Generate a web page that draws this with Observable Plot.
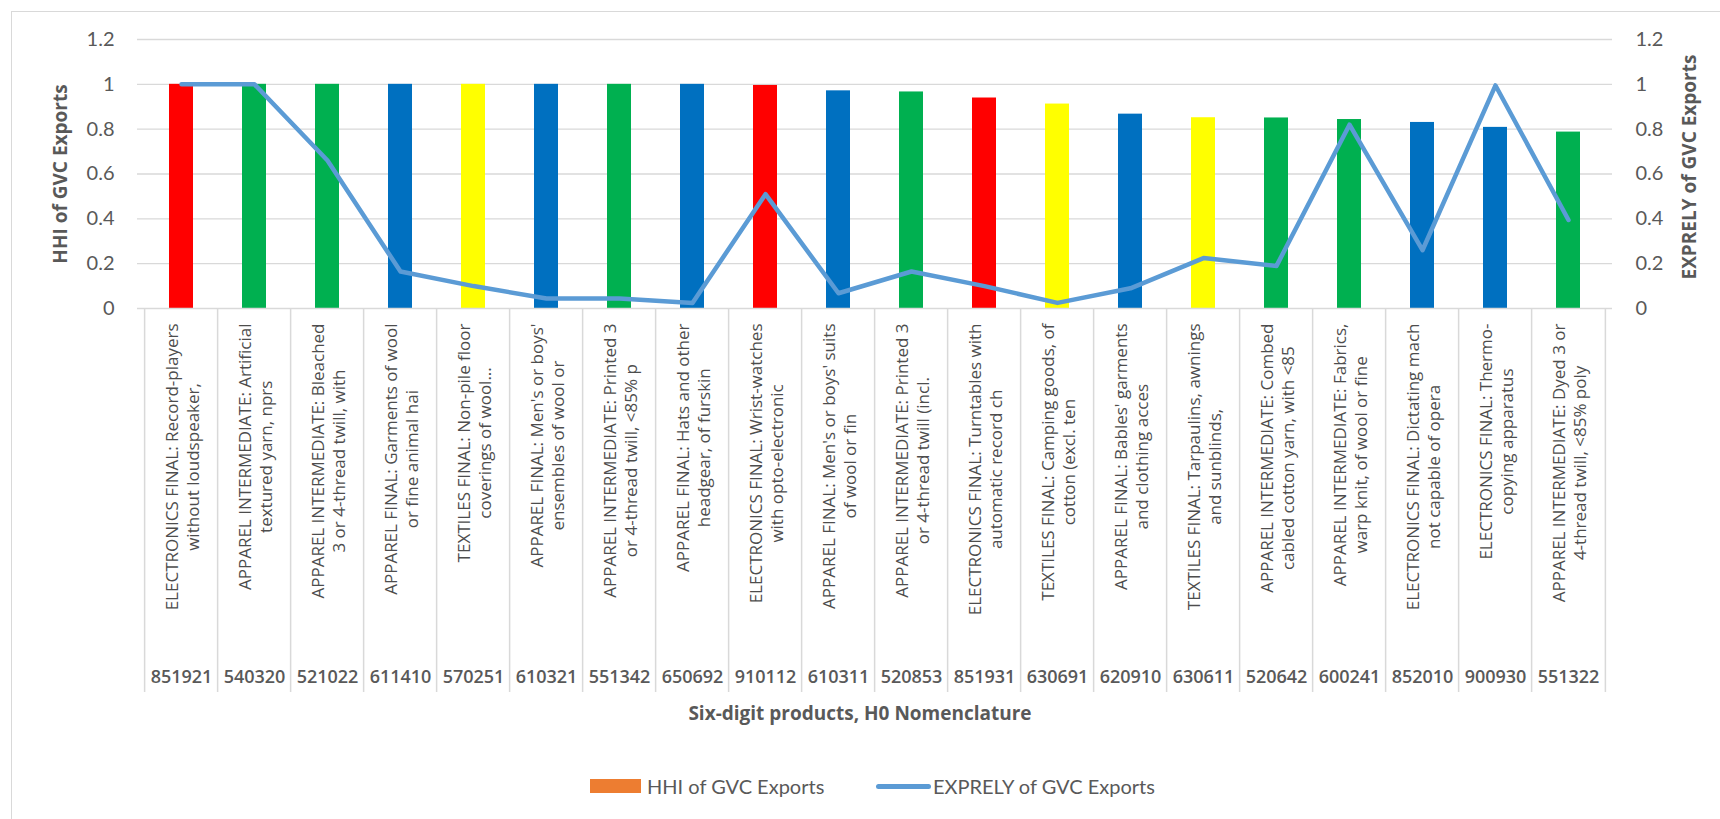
<!DOCTYPE html>
<html>
<head>
<meta charset="utf-8">
<script src="https://cdn.jsdelivr.net/npm/d3@7"></script>
<script src="https://cdn.jsdelivr.net/npm/@observablehq/plot@0.6"></script>
<style>
html,body{margin:0;padding:0;background:#fff;}
#wrap{position:relative;width:1720px;height:819px;overflow:hidden;background:#fff;}
#border{position:absolute;left:11px;top:11px;width:1800px;height:900px;border:1.5px solid #d9d9d9;box-sizing:border-box;}
#chart{position:absolute;left:0;top:0;}
#xtitle{position:absolute;left:0;width:1720px;top:699px;text-align:center;font-family:'Open Sans';font-weight:700;font-size:19px;color:#595959;line-height:28px;}
.lg{position:absolute;font-family:'Lato';font-size:20px;color:#595959;line-height:24px;top:774px;white-space:nowrap;}
</style>
</head>
<body>
<div id="wrap">
  <div id="border"></div>
  <div id="chart"></div>
  <div id="xtitle">Six-digit products, H0 Nomenclature</div>
  <div style="position:absolute;left:590px;top:779px;width:51px;height:14px;background:#ed7d31;"></div>
  <div class="lg" style="left:647px;">HHI of GVC Exports</div>
  <div style="position:absolute;left:876px;top:784px;width:55px;height:5px;border-radius:3px;background:#5b9bd5;"></div>
  <div class="lg" style="left:933px;">EXPRELY of GVC Exports</div>
</div>
<script>
// ---- data ----
const codes = ["851921","540320","521022","611410","570251","610321","551342","650692","910112","610311",
               "520853","851931","630691","620910","630611","520642","600241","852010","900930","551322"];
const labelLine1 = [
  "ELECTRONICS FINAL: Record-players",
  "APPAREL INTERMEDIATE: Artificial",
  "APPAREL INTERMEDIATE: Bleached",
  "APPAREL FINAL: Garments of wool",
  "TEXTILES FINAL: Non-pile floor",
  "APPAREL FINAL: Men's or boys'",
  "APPAREL INTERMEDIATE: Printed 3",
  "APPAREL FINAL: Hats and other",
  "ELECTRONICS FINAL: Wrist-watches",
  "APPAREL FINAL: Men's or boys' suits",
  "APPAREL INTERMEDIATE: Printed 3",
  "ELECTRONICS FINAL: Turntables with",
  "TEXTILES FINAL: Camping goods, of",
  "APPAREL FINAL: Bables' garments",
  "TEXTILES FINAL: Tarpaulins, awnings",
  "APPAREL INTERMEDIATE: Combed",
  "APPAREL INTERMEDIATE: Fabrics,",
  "ELECTRONICS FINAL: Dictating mach",
  "ELECTRONICS FINAL: Thermo-",
  "APPAREL INTERMEDIATE: Dyed 3 or"
];
const labelLine2 = [
  "without loudspeaker,",
  "textured yarn, nprs",
  "3 or 4-thread twill, with",
  "or fine animal hai",
  "coverings of wool...",
  "ensembles of wool or",
  "or 4-thread twill, <85% p",
  "headgear, of furskin",
  "with opto-electronic",
  "of wool or fin",
  "or 4-thread twill (incl.",
  "automatic record ch",
  "cotton (excl. ten",
  "and clothing acces",
  "and sunblinds,",
  "cabled cotton yarn, with <85",
  "warp knit, of wool or fine",
  "not capable of opera",
  "copying apparatus",
  "4-thread twill, <85% poly"
];
const hhi = [1.0, 1.0, 1.0, 1.0, 1.0, 1.0, 1.0, 1.0, 0.995, 0.971,
             0.966, 0.939, 0.912, 0.867, 0.851, 0.850, 0.843, 0.830, 0.808, 0.787];
const exprely = [1.0, 1.0, 0.66, 0.165, 0.10, 0.045, 0.045, 0.025, 0.51, 0.068,
                 0.165, 0.10, 0.025, 0.09, 0.225, 0.19, 0.82, 0.26, 0.995, 0.395];
const barColors = ["#ff0000","#00b050","#00b050","#0070c0","#ffff00","#0070c0","#00b050","#0070c0","#ff0000","#0070c0",
                   "#00b050","#ff0000","#ffff00","#0070c0","#ffff00","#00b050","#00b050","#0070c0","#0070c0","#00b050"];
const yTicks = [0, 0.2, 0.4, 0.6, 0.8, 1, 1.2];
const yTitleLeft = "HHI of GVC Exports";
const yTitleRight = "EXPRELY of GVC Exports";

// ---- build ----
const rows = codes.map((c, i) => ({
  code: c, label: labelLine1[i] + "\n" + labelLine2[i],
  hhi: hhi[i], exprely: exprely[i], color: barColors[i]
}));

const W = 1720, H = 700, mL = 137, mR = 108, mT = 39, mB = 392;
const n = codes.length;
const step = (W - mL - mR) / n;
const gray = "#595959";
const labelGray = "#4d4d4d";

const ctx = document.createElement("canvas").getContext("2d");
ctx.font = "17px 'Open Sans'";
const labelMarks = rows.map(r => {
  const w = Math.max(...r.label.split("\n").map(s => ctx.measureText(s).width));
  return Plot.text([r], {
    x: "code", text: "label", frameAnchor: "bottom", rotate: -90,
    textAnchor: "middle", lineAnchor: "middle", lineHeight: 1.25,
    dy: 15 + w / 2, fontSize: 17, fill: labelGray, fontFamily: "Open Sans"
  });
});

const chart = Plot.plot({
  width: W, height: H,
  marginLeft: mL, marginRight: mR, marginTop: mT, marginBottom: mB,
  style: {fontFamily: "Open Sans", background: "transparent", overflow: "visible"},
  x: {type: "band", domain: codes, paddingInner: 0.675, paddingOuter: 0.3375},
  y: {domain: [0, 1.2]},
  color: {type: "identity"},
  marks: [
    Plot.ruleY(yTicks.filter(d => d > 0), {stroke: "#d9d9d9", strokeWidth: 1.3}),
    Plot.barY(rows, {x: "code", y: "hhi", fill: "color"}),
    Plot.ruleY([0], {stroke: "#d9d9d9", strokeWidth: 1.5}),
    Plot.line(rows, {x: "code", y: "exprely", stroke: "#5b9bd5", strokeWidth: 4.5,
                     strokeLinejoin: "round", strokeLinecap: "round"}),
    Plot.axisY({anchor: "left", ticks: yTicks, tickSize: 0, tickPadding: 23,
                tickFormat: d => String(d), label: null, fontSize: 20, fontFamily: "Lato",
                fill: gray, color: gray}),
    Plot.axisY({anchor: "right", ticks: yTicks, tickSize: 0, tickPadding: 23,
                tickFormat: d => String(d), label: null, fontSize: 20, fontFamily: "Lato",
                fill: gray, color: gray}),
    Plot.axisX({anchor: "bottom", tickSize: 384, tickFormat: () => "", dx: -step / 2,
                stroke: "#d9d9d9", color: "#d9d9d9", strokeWidth: 1.5, label: null}),
    Plot.axisX({anchor: "bottom", ticks: [codes[n - 1]], tickSize: 384, tickFormat: () => "", dx: step / 2,
                stroke: "#d9d9d9", color: "#d9d9d9", strokeWidth: 1.5, label: null}),
    Plot.axisX({anchor: "bottom", tickSize: 0, tickPadding: 362, label: null,
                fontSize: 18, fontWeight: 600, fill: gray, color: gray, fontFamily: "Open Sans"}),
    ...labelMarks,
    Plot.text([yTitleLeft], {text: d => d, frameAnchor: "left", textAnchor: "middle", lineAnchor: "middle",
                             rotate: -90, dx: -77,
                             fontSize: 19, fontWeight: 700, fill: gray, fontFamily: "Open Sans"}),
    Plot.text([yTitleRight], {text: d => d, frameAnchor: "right", textAnchor: "middle", lineAnchor: "middle",
                              rotate: -90, dx: 77, dy: -7,
                              fontSize: 19, fontWeight: 700, fill: gray, fontFamily: "Open Sans"})
  ]
});
document.getElementById("chart").appendChild(chart);
</script>
</body>
</html>
